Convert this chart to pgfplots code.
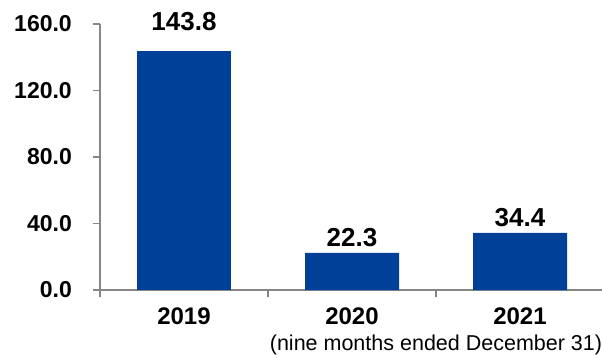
\documentclass[border=0pt]{standalone}
\usepackage{pgfplots}
\pgfplotsset{compat=1.18}
\usepackage{fontspec}
\setmainfont{Liberation Sans}
\definecolor{barblue}{RGB}{0,64,152}
\definecolor{axgray}{RGB}{134,134,134}
\begin{document}
\begin{tikzpicture}[x=1pt,y=1pt]
\begin{axis}[
  at={(0pt,0pt)}, anchor=south west,
  scale only axis, width=504pt, height=266pt,
  xmin=-0.5, xmax=2.5, ymin=0, ymax=160,
  axis lines*=left,
  axis line style={draw=axgray, line width=1.5pt},
  clip=false,
  xtick={0,1,2}, xticklabels={2019,2020,2021},
  major x tick style={draw=none},
  minor xtick={-0.5,0.5,1.5,2.5},
  minor x tick style={draw=axgray, line width=1.5pt},
  minor tick length=7pt,
  ytick={0,40,80,120,160},
  ytick style={draw=axgray, line width=1.5pt},
  major tick length=7pt,
  tick align=outside,
  /pgf/number format/assume math mode=true,
  yticklabel={\pgfmathprintnumber[fixed,precision=1,zerofill]{\tick}},
  yticklabel style={anchor=east, inner sep=0pt, xshift=-21pt, font=\fontsize{23}{27}\selectfont\bfseries},
  xticklabel style={anchor=north, inner sep=0pt, yshift=-11pt, font=\fontsize{24}{28}\selectfont\bfseries},
  ybar, bar width=94pt,
  nodes near coords={\pgfmathprintnumber[fixed,precision=1,zerofill]{\pgfplotspointmeta}},
  every node near coord/.append style={font=\fontsize{26}{30}\selectfont\bfseries, anchor=south, inner sep=0pt},
]
\addplot[fill=barblue, draw=none, bar shift=0pt, every node near coord/.append style={yshift=20pt}] coordinates {(0,143.8)};
\addplot[fill=barblue, draw=none, bar shift=0pt, every node near coord/.append style={yshift=6pt}] coordinates {(1,22.3) (2,34.4)};
\node[anchor=north, inner sep=0pt, font=\fontsize{21.5}{25}\selectfont, yshift=-45pt] at (axis cs:1.5,0) {(nine months ended December 31)};
\end{axis}
\pgfresetboundingbox
\path[use as bounding box] (-100pt,-67pt) rectangle (502pt,290pt);
\end{tikzpicture}
\end{document}
